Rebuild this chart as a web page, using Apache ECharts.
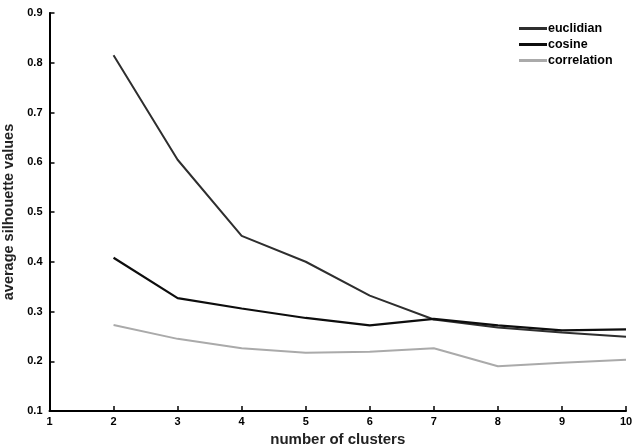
<!DOCTYPE html>
<html><head><meta charset="utf-8">
<script src="https://cdn.jsdelivr.net/npm/echarts@6/dist/echarts.min.js"></script>
<style>html,body{margin:0;padding:0;background:#fff}#c{width:633px;height:448px}</style>
</head><body><div id="c"></div>
<script>
const clusters = [2, 3, 4, 5, 6, 7, 8, 9, 10];
const euclidian = [0.815, 0.605, 0.452, 0.400, 0.332, 0.284, 0.268, 0.258, 0.249];
const cosine = [0.408, 0.327, 0.306, 0.287, 0.272, 0.285, 0.272, 0.262, 0.264];
const correlation = [0.273, 0.245, 0.226, 0.217, 0.219, 0.226, 0.190, 0.197, 0.203];
const seriesNames = ['euclidian', 'cosine', 'correlation'];
const colors = ['#2e2e2e', '#0d0d0d', '#aaaaaa'];
const pair = arr => clusters.map((c, i) => [c, arr[i]]);
const font = '"Liberation Sans", Arial, sans-serif';
const chart = echarts.init(document.getElementById('c'));
const axisCommon = {
  axisLine: {show: true, onZero: false, lineStyle: {color: '#000', width: 2}},
  axisTick: {show: true, inside: true, length: 5, lineStyle: {color: '#000', width: 1.5}},
  splitLine: {show: false},
  axisLabel: {color: '#000', fontWeight: 'bold', fontSize: 11, fontFamily: font},
  nameTextStyle: {color: '#222', fontWeight: 'bold', fontSize: 15, fontFamily: font}
};
chart.setOption({
  animation: false,
  grid: {left: 49.5, right: 7, top: 13, bottom: 37, outerBoundsMode: 'none', containLabel: false},
  xAxis: Object.assign({}, axisCommon, {
    type: 'value', min: 1, max: 10, interval: 1,
    name: 'number of clusters', nameLocation: 'middle', nameGap: 18,
    axisLabel: Object.assign({}, axisCommon.axisLabel, {margin: 5})
  }),
  yAxis: Object.assign({}, axisCommon, {
    type: 'value', min: 0.1, max: 0.9, interval: 0.1,
    name: 'average silhouette values', nameLocation: 'middle', nameGap: 30,
    nameTextStyle: Object.assign({}, axisCommon.nameTextStyle, {fontSize: 14.5}),
    axisLabel: Object.assign({}, axisCommon.axisLabel, {margin: 7, formatter: v => v.toFixed(1)})
  }),
  legend: {
    orient: 'vertical', left: 514, top: 17, itemWidth: 28, itemHeight: 3, itemGap: 3,
    icon: 'rect', data: seriesNames,
    textStyle: {color: '#000', fontWeight: 'bold', fontSize: 12.5, fontFamily: font, padding: [0, 0, 0, -4]}
  },
  series: [
    {name: seriesNames[0], type: 'line', data: pair(euclidian), showSymbol: false, symbol: 'none', lineStyle: {color: colors[0], width: 2}, itemStyle: {color: colors[0]}},
    {name: seriesNames[1], type: 'line', data: pair(cosine), showSymbol: false, symbol: 'none', lineStyle: {color: colors[1], width: 2.2}, itemStyle: {color: colors[1]}},
    {name: seriesNames[2], type: 'line', data: pair(correlation), showSymbol: false, symbol: 'none', lineStyle: {color: colors[2], width: 2}, itemStyle: {color: colors[2]}}
  ]
});
</script></body></html>
